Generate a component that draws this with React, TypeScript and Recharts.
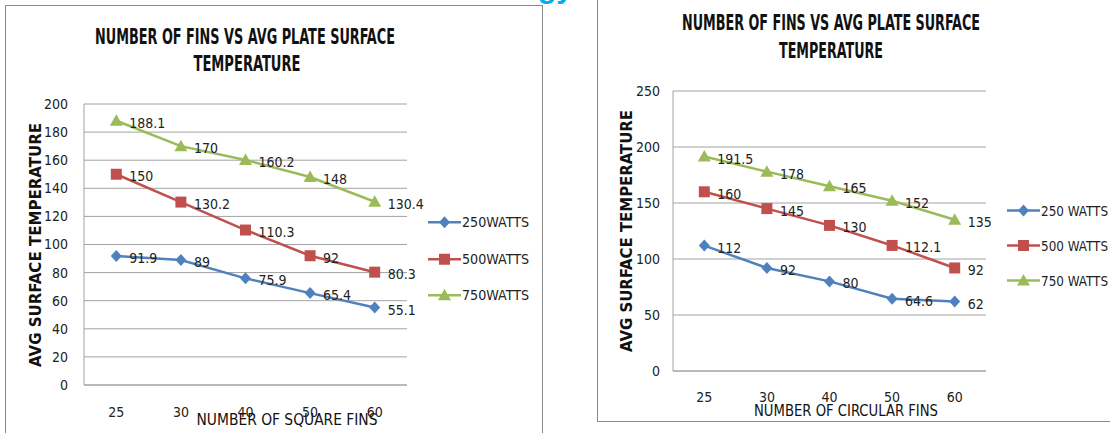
// App.tsx — number of fins vs avg plate surface temperature (square & circular fins)
import React from "react";
import { LineChart, Line, XAxis, YAxis, CartesianGrid, Legend, LabelList } from "recharts";

const FONT = '"Liberation Sans Narrow", "DejaVu Sans Condensed", "Liberation Sans", sans-serif';

const finCounts = ["25", "30", "40", "50", "60"];

const squareNames = ["250WATTS", "500WATTS", "750WATTS"];
const square250 = [91.9, 89, 75.9, 65.4, 55.1];
const square500 = [150, 130.2, 110.3, 92, 80.3];
const square750 = [188.1, 170, 160.2, 148, 130.4];
const squareTicks = [0, 20, 40, 60, 80, 100, 120, 140, 160, 180, 200];

const circularNames = ["250 WATTS", "500 WATTS", "750 WATTS"];
const circular250 = [112, 92, 80, 64.6, 62];
const circular500 = [160, 145, 130, 112.1, 92];
const circular750 = [191.5, 178, 165, 152, 135];
const circularTicks = [0, 50, 100, 150, 200, 250];

const COLORS = ["#4F81BD", "#C0504D", "#9BBB59"];
const SHAPES = ["diamond", "square", "triangle"];

function buildRows(series: number[][]) {
    return finCounts.map((fins, i) => {
        const row: any = { fins };
        series.forEach((s, k) => { row[`s${k}`] = s[i]; });
        return row;
    });
}

function Marker({ shape, cx, cy, color }: { shape: string; cx: number; cy: number; color: string }) {
    if (shape === "diamond") {
        return <polygon points={`${cx},${cy - 6} ${cx + 5.5},${cy} ${cx},${cy + 6} ${cx - 5.5},${cy}`} fill={color} />;
    }
    if (shape === "square") {
        return <rect x={cx - 5.5} y={cy - 5.5} width={11} height={11} fill={color} />;
    }
    return <polygon points={`${cx},${cy - 6.5} ${cx + 6.5},${cy + 5} ${cx - 6.5},${cy + 5}`} fill={color} />;
}

interface ChartProps {
    names: string[];
    series: number[][];
    ticks: number[];
    width: number;
    height: number;
    top: number;
    right: number;
    yAxisWidth: number;
    xAxisHeight: number;
    xPad: number;
    yTickMargin: number;
    xTickMargin: number;
    legendLeft: number;
    legendTop: number;
    legendRow: number;
}

function FinChart(p: ChartProps) {
    const rows = buildRows(p.series);
    const tick = { fontSize: 14, fill: "#222", fontFamily: FONT };
    const legendContent = () => (
        <div>
            {p.names.map((name, i) => (
                <svg key={name} width={110} height={p.legendRow} style={{ display: "block" }}>
                    <line x1={0} y1={p.legendRow / 2} x2={33} y2={p.legendRow / 2} stroke={COLORS[i]} strokeWidth={2.5} />
                    <Marker shape={SHAPES[i]} cx={16.5} cy={p.legendRow / 2} color={COLORS[i]} />
                    <text
                        x={34}
                        y={p.legendRow / 2}
                        dy="0.36em"
                        fontSize={14}
                        fill="#222"
                        fontFamily={FONT}
                        textLength={67}
                        lengthAdjust="spacingAndGlyphs"
                    >
                        {name}
                    </text>
                </svg>
            ))}
        </div>
    );
    return (
        <LineChart
            width={p.width}
            height={p.height}
            data={rows}
            margin={{ top: p.top, right: p.right, left: 0, bottom: 0 }}
            style={{ fontFamily: FONT }}
        >
            <CartesianGrid vertical={false} stroke="#a2a2a2" />
            <XAxis
                dataKey="fins"
                height={p.xAxisHeight}
                padding={{ left: p.xPad, right: p.xPad }}
                tickSize={0}
                tickMargin={p.xTickMargin}
                tick={tick}
                axisLine={{ stroke: "#a2a2a2" }}
                tickLine={false}
            />
            <YAxis
                width={p.yAxisWidth}
                domain={[0, p.ticks[p.ticks.length - 1]]}
                ticks={p.ticks}
                tickSize={0}
                tickMargin={p.yTickMargin}
                tick={tick}
                axisLine={{ stroke: "#a2a2a2" }}
                tickLine={false}
            />
            <Legend
                layout="vertical"
                align="center"
                verticalAlign="middle"
                content={legendContent}
                wrapperStyle={{ left: p.legendLeft, top: p.legendTop, width: 110 }}
            />
            {p.names.map((name, i) => (
                <Line
                    key={name}
                    name={name}
                    dataKey={`s${i}`}
                    stroke={COLORS[i]}
                    strokeWidth={2.5}
                    isAnimationActive={false}
                    dot={(d: any) => (
                        <Marker key={`${name}-${d.index}`} shape={SHAPES[i]} cx={d.cx} cy={d.cy} color={COLORS[i]} />
                    )}
                    activeDot={false}
                >
                    <LabelList
                        dataKey={`s${i}`}
                        content={(l: any) => (
                            <text
                                x={Number(l.x) + 13}
                                y={Number(l.y) + 2}
                                dy="0.36em"
                                fontSize={14}
                                fill="#222"
                                fontFamily={FONT}
                            >
                                {l.value}
                            </text>
                        )}
                    />
                </Line>
            ))}
        </LineChart>
    );
}

function Title({ x, y, text, len, size, bold = true, rotate = false }: any) {
    return (
        <text
            transform={rotate ? `translate(${x},${y}) rotate(-90)` : undefined}
            x={rotate ? 0 : x}
            y={rotate ? 0 : y}
            textAnchor="middle"
            textLength={len}
            lengthAdjust="spacingAndGlyphs"
            fontSize={size}
            fontWeight={bold ? "bold" : "normal"}
            fontFamily={FONT}
            fill="#111"
        >
            {text}
        </text>
    );
}

export default function App() {
    return (
        <div style={{ position: "absolute", left: 0, top: 0, width: 1110, height: 433, overflow: "hidden", background: "#fff" }}>
            <div style={{ position: "absolute", left: 0, top: 0 }}>
                <FinChart
                    names={squareNames}
                    series={[square250, square500, square750]}
                    ticks={squareTicks}
                    width={542}
                    height={433}
                    top={104}
                    right={135}
                    yAxisWidth={84}
                    xAxisHeight={48}
                    xPad={32.3}
                    yTickMargin={16}
                    xTickMargin={22}
                    legendLeft={428}
                    legendTop={204}
                    legendRow={36.5}
                />
            </div>
            <div style={{ position: "absolute", left: 597, top: 0 }}>
                <FinChart
                    names={circularNames}
                    series={[circular250, circular500, circular750]}
                    ticks={circularTicks}
                    width={513}
                    height={433}
                    top={91}
                    right={124}
                    yAxisWidth={76}
                    xAxisHeight={62}
                    xPad={31.3}
                    yTickMargin={13}
                    xTickMargin={21}
                    legendLeft={410}
                    legendTop={192.5}
                    legendRow={35}
                />
            </div>
            <svg width={1110} height={433} style={{ position: "absolute", left: 0, top: 0, pointerEvents: "none" }}>
                <rect x={5.5} y={5.5} width={537} height={500} fill="none" stroke="#8a8a8a" />
                <rect x={597.5} y={-10} width={600} height={431.5} fill="none" stroke="#8a8a8a" />
                <text x={538} y={-2} fontSize={30} fontWeight="bold" fill="#00AEEF" fontFamily="Liberation Sans, sans-serif">gy</text>

                <Title x={245} y={44} text="NUMBER OF FINS VS AVG PLATE SURFACE" len={300} size={21} />
                <Title x={247} y={71} text="TEMPERATURE" len={107} size={21} />
                <Title x={41} y={245} text="AVG SURFACE TEMPERATURE" len={244} size={16} rotate />
                <Title x={287} y={425} text="NUMBER OF  SQUARE FINS" len={181} size={16} bold={false} />

                <Title x={831} y={30} text="NUMBER OF FINS VS AVG PLATE SURFACE" len={298} size={21} />
                <Title x={831} y={58} text="TEMPERATURE" len={104} size={21} />
                <Title x={632} y={231} text="AVG SURFACE TEMPERATURE" len={242} size={16} rotate />
                <Title x={846} y={416} text="NUMBER OF CIRCULAR  FINS" len={184} size={16} bold={false} />
            </svg>
        </div>
    );
}
